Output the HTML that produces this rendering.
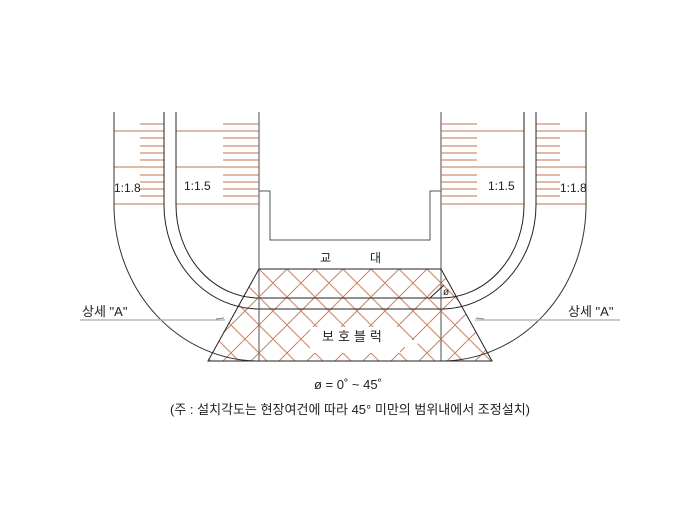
<!DOCTYPE html>
<html><head><meta charset="utf-8"><style>
body{margin:0;background:#fff}
svg text{font-family:"Liberation Sans","Noto Sans CJK KR",sans-serif;fill:#222}
</style></head><body>
<svg width="700" height="500" viewBox="0 0 700 500" xmlns="http://www.w3.org/2000/svg">
<defs>
<pattern id="h" width="28" height="28" patternUnits="userSpaceOnUse" x="259" y="269">
<path d="M0 0L28 28M28 0L0 28" stroke="#c88466" stroke-width="1"/>
</pattern>
<g id="half">
<g stroke="#c0734f" stroke-width="1">
<path d="M140 124H164M114 131H164M140 138H164M140 146H164M140 153H164M140 160H164M114 167H164M140 175H164M140 182H164M140 189H164M140 196H164M114 204H164"/>
<path d="M223 124H259M176 131H259M223 138H259M223 146H259M223 153H259M223 160H259M176 167H259M223 175H259M223 182H259M223 189H259M223 196H259M176 204H259"/>
</g>
<g fill="none" stroke="#222" stroke-width="1">
<path d="M114 112V205A145 156 0 0 0 259 361" stroke="#333"/>
<path d="M164 112V205A95 104 0 0 0 259 309"/>
<path d="M176 112V205A83 93 0 0 0 259 298"/>
</g>
<path d="M259 112V361" stroke="#777" stroke-width="1.3" fill="none"/>
<path d="M80 320H225" stroke="#aaa" stroke-width="1.2"/>
<path d="M216 319l8 -1" stroke="#888"/>
</g>
</defs>
<polygon points="259,269 441,269 492,361 208,361" fill="url(#h)"/>
<rect x="310" y="327" width="90" height="26" fill="#fff"/>
<polygon points="400,340 420,340 410,355" fill="#fff"/>
<use href="#half"/>
<use href="#half" transform="translate(700,0) scale(-1,1)"/>
<g fill="none" stroke="#222" stroke-width="1">
<path d="M259 298H441M259 309H441"/>
<path d="M259 191H270V240H430V191H441" stroke="#555"/>
<polygon points="259,269 441,269 492,361 208,361"/>
<path d="M430 298L444 285"/>
</g>
<text x="114" y="192" font-size="12">1:1.8</text>
<text x="184" y="190" font-size="12">1:1.5</text>
<text x="488" y="190" font-size="12">1:1.5</text>
<text x="560" y="192" font-size="12">1:1.8</text>
<text x="320" y="262" font-size="12">교</text>
<text x="370" y="262" font-size="12">대</text>
<text x="443" y="295" font-size="10">ø</text>
<text x="322" y="341" font-size="13" letter-spacing="4">보호블럭</text>
<text x="82" y="316" font-size="13">상세 "A"</text>
<text x="568" y="316" font-size="13">상세 "A"</text>
<text x="314" y="389" font-size="13">ø = 0˚ ~ 45˚</text>
<text x="170" y="414" font-size="13" textLength="360">(주 : 설치각도는 현장여건에 따라  45° 미만의 범위내에서 조정설치)</text>
</svg>
</body></html>
